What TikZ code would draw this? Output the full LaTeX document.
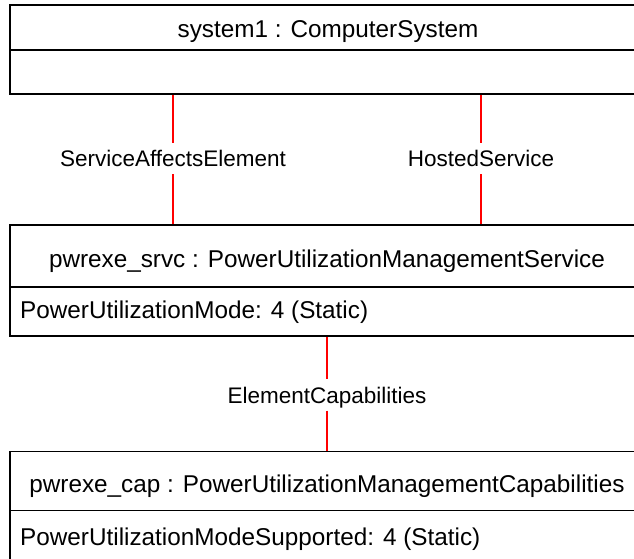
\documentclass[tikz,border=0pt]{standalone}
\usepackage{fontspec}
\setmainfont{Liberation Sans}
\begin{document}
\begin{tikzpicture}[x=1pt,y=-1pt,
  box/.style={draw=black,line width=1.8pt,fill=white,inner sep=0pt},
  divider/.style={draw=black,line width=1.8pt},
  title/.style={anchor=base,inner sep=0pt,font=\fontsize{24.3}{29}\selectfont},
  attr/.style={anchor=base west,inner sep=0pt,font=\fontsize{24.3}{29}\selectfont},
  assoclabel/.style={inner sep=0pt,minimum height=31pt,text height=16.3pt,text depth=0pt,font=\fontsize{22.5}{27}\selectfont},
  assoc/.style={draw,color=red,line width=1.2pt}]
\useasboundingbox (0,0) rectangle (634,559);
\clip (0,0) rectangle (634,559);
\fill[white] (0,0) rectangle (634,559);
% boxes
\node[box,minimum width=636pt,minimum height=89pt] (b1) at (328,49.5) {};
\node[box,minimum width=636pt,minimum height=111pt] (b2) at (328,280.5) {};
\node[box,minimum width=636pt,minimum height=113.5pt] (b3) at (328,508.25) {};
\coordinate (d1) at (10,50);
\coordinate (d2) at (10,287);
\coordinate (d3) at (10,510.5);
\draw[divider] (d1) -- (d1 -| b1.east);
\draw[divider] (d2) -- (d2 -| b2.east);
\draw[divider] (d3) -- (d3 -| b3.east);
% texts
\node[title] (t1) at (328,37.7) {system1 : ComputerSystem};
\node[title] (t2) at (327,267.3) {pwrexe\_srvc : PowerUtilizationManagementService};
\node[attr] (a2) at (20,318) {PowerUtilizationMode: 4 (Static)};
\node[title] (t3) at (327,492) {pwrexe\_cap : PowerUtilizationManagementCapabilities};
\node[attr] (a3) at (20,545) {PowerUtilizationModeSupported: 4 (Static)};
% association labels
\node[assoclabel] (l1) at (173,158.5) {ServiceAffectsElement};
\node[assoclabel] (l2) at (481,158.5) {HostedService};
\node[assoclabel] (l3) at (327,395) {ElementCapabilities};
% connectors
\draw[assoc] (l1 |- b1.south) -- (l1.north);
\draw[assoc] (l1.south) -- (l1 |- b2.north);
\draw[assoc] (l2 |- b1.south) -- (l2.north);
\draw[assoc] (l2.south) -- (l2 |- b2.north);
\draw[assoc] (l3 |- b2.south) -- (l3.north);
\draw[assoc] (l3.south) -- (l3 |- b3.north);
\end{tikzpicture}
\end{document}
